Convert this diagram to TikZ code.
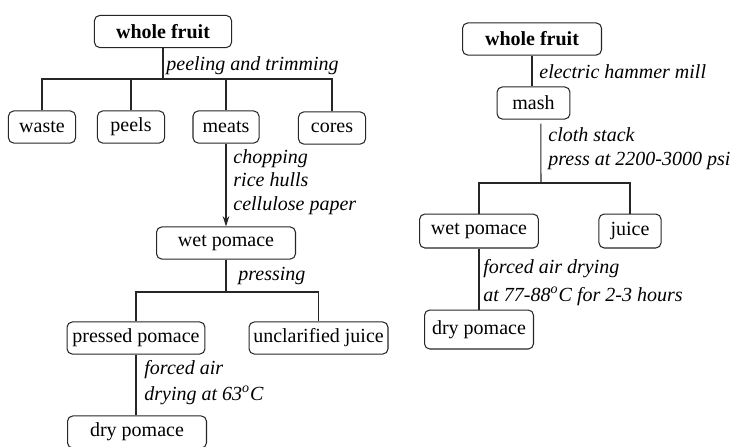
\documentclass[tikz,border=0pt]{standalone}
\usepackage{fontspec}
\setmainfont{Liberation Serif}
\usetikzlibrary{arrows.meta,positioning}

\begin{document}
\begin{tikzpicture}[
  x=0.48pt, y=-0.48pt,
  box/.style={rectangle, rounded corners=2.5pt, draw=black!85, line width=0.5pt,
              minimum height=15.4pt, inner sep=1pt, font=\fontsize{9.6}{11}\selectfont},
  lbl/.style={anchor=base west, inner sep=0pt, align=left,
              font=\fontsize{9.6}{11.2}\selectfont\itshape},
  line/.style={draw=black!85, line width=0.5pt},
  arr/.style={line, -{Stealth[length=5pt,width=3.2pt]}}
]
\useasboundingbox (0,0) rectangle (738,446);

%% Left chart
\node[box, minimum width=65.8pt, font=\fontsize{9.6}{11}\selectfont\bfseries]
  (fruitL) at (163,31.5) {whole fruit};
\node[box, minimum width=32.2pt] (waste) at (42,127)  {waste};
\node[box, minimum width=32.2pt] (peels) at (131,127) {peels};
\node[box, minimum width=31.7pt] (meats) at (226,127) {meats};
\node[box, minimum width=32.2pt] (cores) at (332,128) {cores};
\node[box, minimum width=66.7pt] (wetL) at (226,243) {wet pomace};
\node[box, minimum width=66.2pt] (pressed) at (136,338) {pressed pomace};
\node[box, minimum width=66.7pt] (unclar) at (318.5,338) {unclarified juice};
\node[box, minimum width=66.7pt] (dryL) at (137,432) {dry pomace};

\coordinate (barA) at (163,79);
\coordinate (barB) at (226,292);

\draw[line] (fruitL.south) -- (barA);
\draw[line] (barA) -| (waste.north);
\draw[line] (barA) -| (peels.north);
\draw[line] (barA) -| (meats.north);
\draw[line] (barA) -| (cores.north);
\draw[arr] (meats.south) -- (wetL.north);
\draw[line] (wetL.south) -- (barB);
\draw[line] (barB) -| (pressed.north);
\draw[line] (barB) -| (unclar.north);
\draw[line] (pressed.south) -- (pressed.south |- dryL.north);

%% Step labels (placed at the baseline of their last line)
\node[lbl] (peelL) at (166,70) {peeling and trimming};
\node[lbl] (chopL) at (233,210) {chopping\\rice hulls\\cellulose paper};
\node[lbl] (pressL) at (238,280) {pressing};
\node[lbl] (dryingL) at (144,400)
  {forced air\\[1pt]drying at 63\textsuperscript{o}C};

%% Right chart
\node[box, minimum width=66.7pt, font=\fontsize{9.6}{11}\selectfont\bfseries]
  (fruitR) at (532,39) {whole fruit};
\node[box, minimum width=35pt] (mash) at (533.5,103) {mash};
\node[box, minimum width=57pt, minimum height=16.3pt] (wetR) at (479,231) {wet pomace};
\node[box, minimum width=29.8pt, minimum height=16.3pt] (juice) at (630,231) {juice};
\node[box, minimum width=52.3pt, minimum height=18.7pt] (dryR) at (479,329.5) {dry pomace};

\coordinate (barC) at (541,183);

\draw[line] (fruitR.south) -- (fruitR.south |- mash.north);
\draw[line] ([xshift=3.5pt,yshift=-2pt]mash.south) -- (barC);
\draw[line] (barC) -| (wetR.north);
\draw[line] (barC) -| (juice.north);
\draw[line] (wetR.south) -- (dryR.north);

\node[lbl] (millL) at (539,78) {electric hammer mill};
\node[lbl] (clothL) at (548,165) {cloth stack\\press at 2200-3000 psi};
\node[lbl] (dryingR) at (483,301)
  {forced air drying\\[2pt]at 77-88\textsuperscript{o}C for 2-3 hours};

\end{tikzpicture}
\end{document}
